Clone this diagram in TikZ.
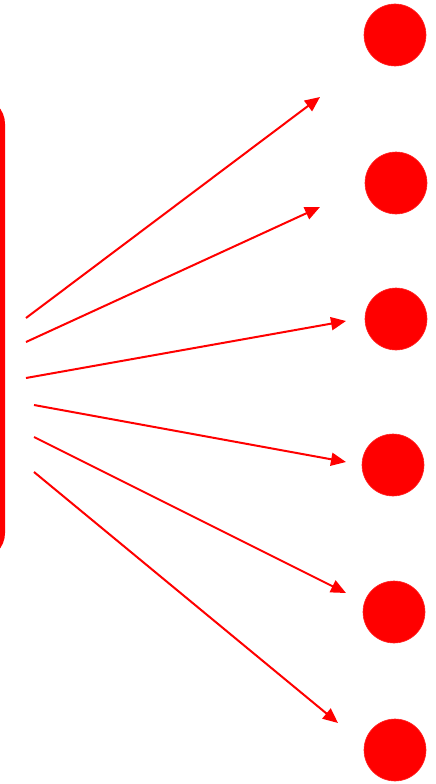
\documentclass[tikz,border=0pt]{standalone}
\usetikzlibrary{arrows.meta}
\definecolor{myred}{RGB}{255,0,0}
\begin{document}
\begin{tikzpicture}[x=1pt,y=-1pt,
  dot/.style={circle,fill=myred,draw=myred!85!white,line width=0.6pt,minimum size=62pt,inner sep=0pt},
  ray/.style={draw=myred,line width=2pt,-{Triangle[length=15pt,width=13pt]}},
  frame/.style={draw=myred,line width=5pt,rounded corners=24pt}]
\useasboundingbox (0,0) rectangle (436,784);
\draw[frame] (-80,100) rectangle (2.5,557);
\node[dot] (c1) at (395,35) {};
\node[dot] (c2) at (396,183) {};
\node[dot] (c3) at (396,319) {};
\node[dot] (c4) at (393,465) {};
\node[dot] (c5) at (394,612) {};
\node[dot] (c6) at (395,750) {};
\coordinate (s1) at (26,318); \coordinate (e1) at (320,97);
\coordinate (s2) at (26,342); \coordinate (e2) at (320,207);
\coordinate (s3) at (26,378); \coordinate (e3) at (346,321);
\coordinate (s4) at (34,405); \coordinate (e4) at (346,462);
\coordinate (s5) at (34,437); \coordinate (e5) at (346,593);
\coordinate (s6) at (34,472); \coordinate (e6) at (338,723);
\foreach \i in {1,...,6} \draw[ray] (s\i) -- (e\i);
\end{tikzpicture}
\end{document}
